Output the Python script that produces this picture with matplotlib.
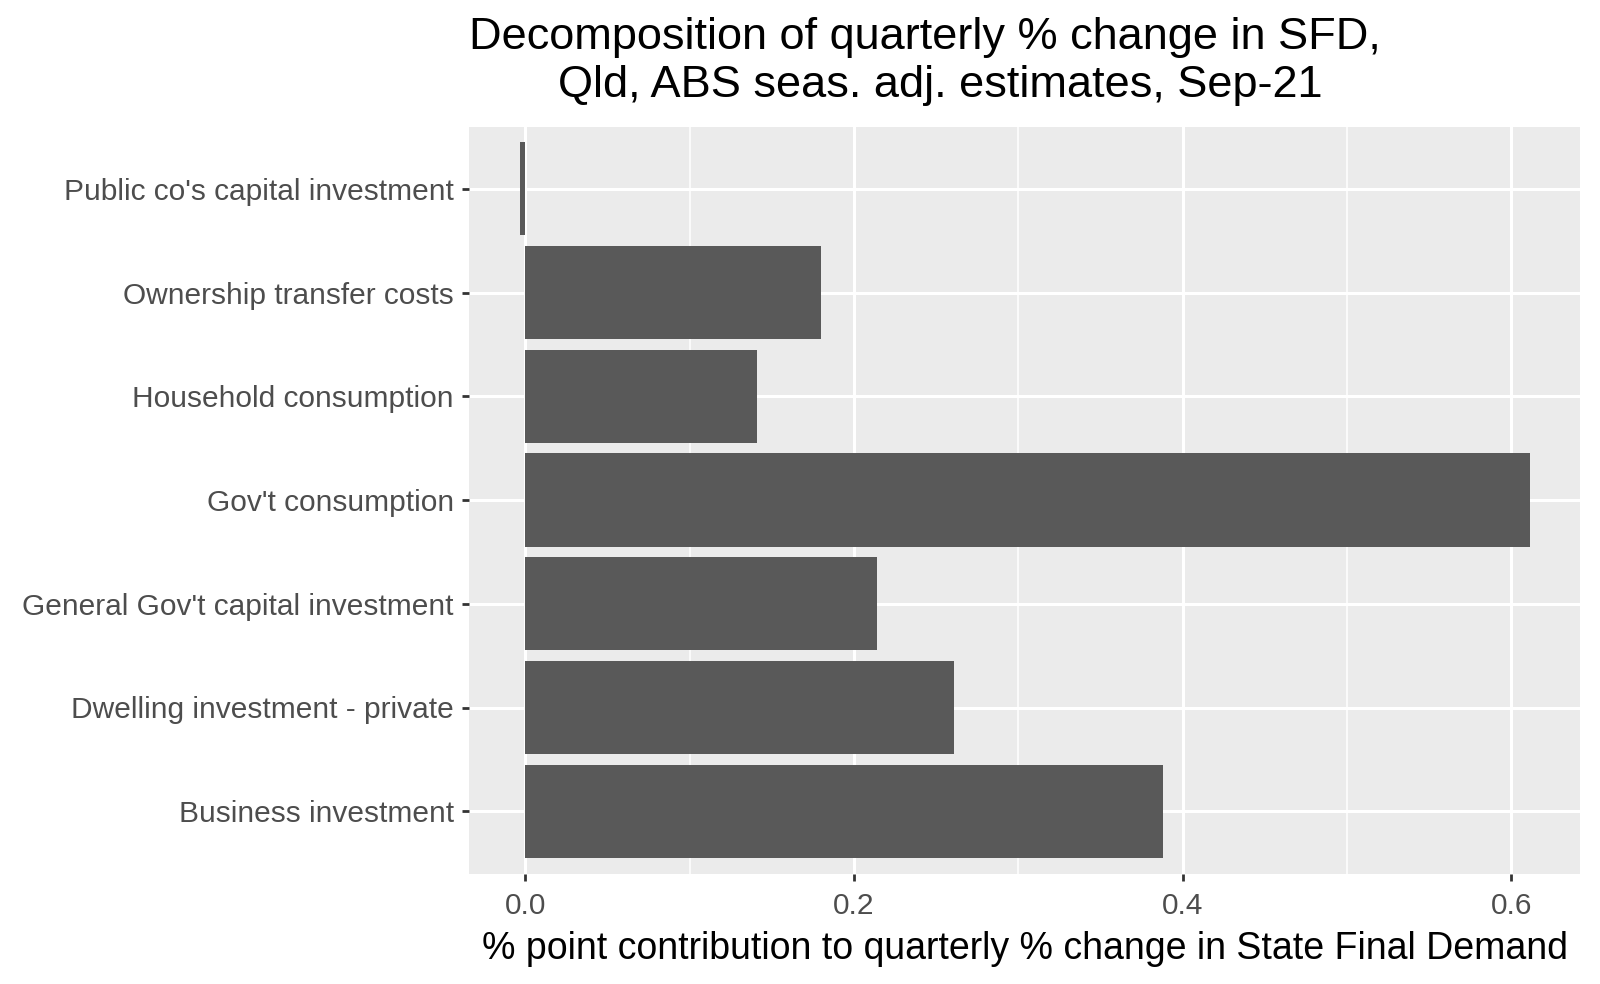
import numpy as np
import matplotlib
matplotlib.use("Agg")
import matplotlib.pyplot as plt
from matplotlib.ticker import MultipleLocator

plt.rcParams['font.family'] = ['Liberation Sans', 'DejaVu Sans']

# categories, bottom to top
categories = ["Business investment",
              "Dwelling investment - private",
              "General Gov't capital investment",
              "Gov't consumption",
              "Household consumption",
              "Ownership transfer costs",
              "Public co's capital investment"]
contrib = [0.388, 0.261, 0.214, 0.611, 0.141, 0.180, -0.0035]

xticks = [0.0, 0.2, 0.4, 0.6]
xticklabels = ["0.0", "0.2", "0.4", "0.6"]

title_lines = ["Decomposition of quarterly % change in SFD,",
               "Qld, ABS seas. adj. estimates, Sep-21"]

fig = plt.figure(figsize=(16, 9.84), dpi=100)
ax = fig.add_axes([469/1600, 1 - 873.5/984, (1580-469)/1600, (873.5-126.5)/984])

ax.set_facecolor("#EBEBEB")
ypos = np.arange(1, len(categories) + 1)
ax.barh(ypos, contrib, height=0.9, color="#595959", zorder=3)

xmin, xmax = min(contrib + [0]), max(contrib)
pad = (xmax - xmin) * 0.05
ax.set_xlim(xmin - pad, xmax + pad)
ax.set_ylim(0.4, len(categories) + 0.6)

ax.set_xticks(xticks)
ax.set_xticklabels(xticklabels)
ax.xaxis.set_minor_locator(MultipleLocator(0.1))
ax.set_yticks(ypos)
ax.set_yticklabels(categories)

ax.grid(which="major", color="white", linewidth=2.2, zorder=1)
ax.grid(which="minor", axis="x", color="white", linewidth=1.1, zorder=1)
ax.tick_params(which="minor", length=0)
ax.tick_params(which="major", length=5, width=2, color="#333333",
               labelcolor="#4D4D4D", labelsize=21.5, pad=6)
ax.tick_params(axis="x", pad=8)
for s in ax.spines.values():
    s.set_visible(False)

ax.set_xlabel("% point contribution to quarterly % change in State Final Demand",
              fontsize=27, color="black", labelpad=8)

# title: two lines, second one sits slightly right as in the original
fig.text(925/1600, 1 - 37/984, title_lines[0],
         ha="center", va="center", fontsize=32.5)
fig.text(940/1600, 1 - 85/984, title_lines[1],
         ha="center", va="center", fontsize=32.5)

fig.savefig("out.png", dpi=100)
